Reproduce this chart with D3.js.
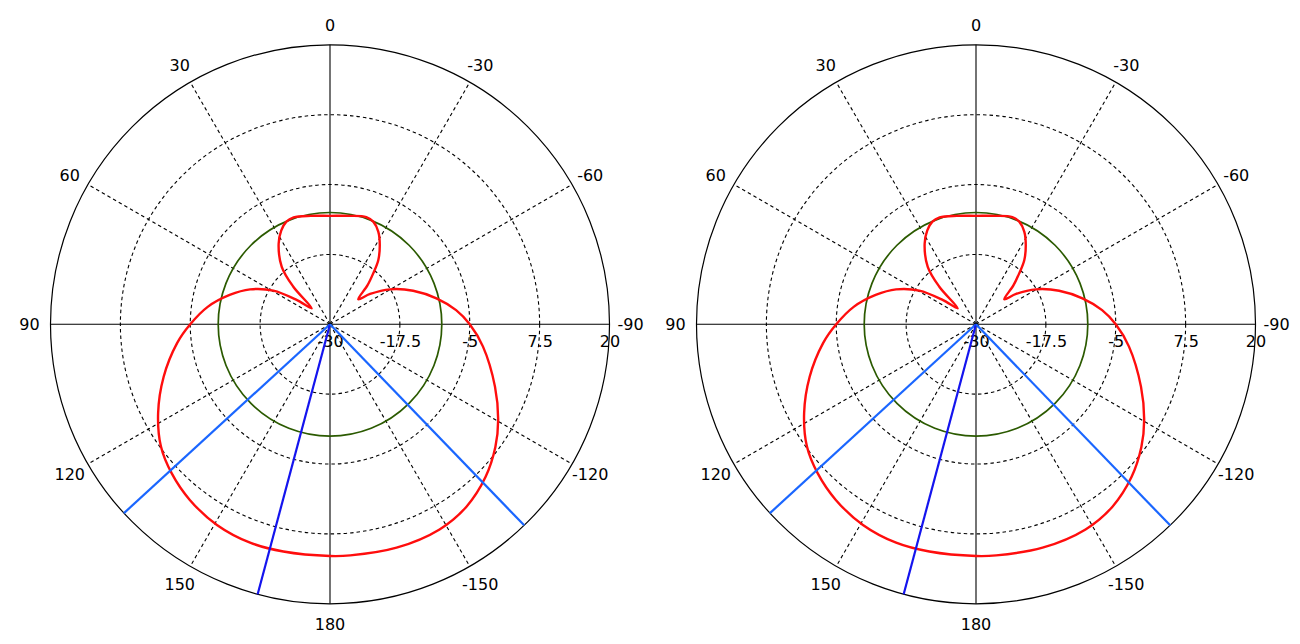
<!DOCTYPE html>
<html>
<head>
<meta charset="utf-8">
<script src="https://cdnjs.cloudflare.com/ajax/libs/d3/7.8.5/d3.min.js"></script>
<style>
  body { margin: 0; background: #fff; }
  svg { display: block; font-family: "DejaVu Sans", Verdana, sans-serif; }
</style>
</head>
<body>
<svg id="chart" width="1300" height="644"></svg>
<script>
// angle ticks in degrees, positive goes counter-clockwise from the top
const angleTicks = [0, 30, 60, 90, 120, 150, 180, -150, -120, -90, -60, -30];
// radial ticks (dB)
const radialTicks = [-30, -17.5, -5, 7.5, 20];

// red pattern
const patternAngles = [-175, -163.4, -151.9, -143.2, -134.5, -126.6, -119.6, -110.7, -98.3, -90,
  -83.6, -76.3, -68, -59.7, -52.9, -48.5, -44, -40.3, -36.9, -32, -27.5, -23, -18.7, -10, 0,
  10, 18.8, 23, 27.5, 32.5, 40, 44.3, 48.8, 53.9, 59.3, 66.4, 73.7, 81.9, 90,
  97.1, 107.5, 117.3, 125.8, 133.3, 141.4, 150.6, 159.9, 168.4, 180];
const patternValues = [11.5, 11.7, 11.6, 10.75, 9.0, 6.85, 4.6, 1.55, -2.34, -5,
  -7.3, -10.4, -13.96, -17.6, -21.0, -23.25, -20.4, -18.05, -15.6, -13.2, -11.3, -10.1, -9.75, -10.3, -10.6,
  -10.3, -9.8, -10.05, -11.1, -12.9, -16.57, -20.6, -25.66, -22.6, -18.2, -14.4, -11.3, -7.9, -5,
  -2.41, 1.2, 4.6, 7.3, 8.9, 10.2, 11.2, 11.6, 11.5, 11.45];

// green reference level (dB)
const refLevel = -10;

// blue marker lines
const markerAngles = [132.5, 165, -136];
const markerColors = ['#1a66ff', '#1414ee', '#1a66ff'];

const centers = [330, 976];
const cy = 324.3;
const radius = 279.5;

const rScale = d3.scaleLinear().domain([radialTicks[0], radialTicks[radialTicks.length - 1]]).range([0, radius]);
const toRad = a => -a * Math.PI / 180;

const svg = d3.select('#chart');

function drawPolar(cx) {
  const g = svg.append('g').attr('transform', `translate(${cx},${cy})`);

  // dashed rings
  g.selectAll('.ring')
    .data(radialTicks.slice(1, -1))
    .enter().append('circle')
    .attr('r', d => rScale(d))
    .attr('fill', 'none')
    .attr('stroke', '#000')
    .attr('stroke-width', 1.1)
    .attr('stroke-dasharray', '3.5,3');

  // outer ring
  g.append('circle')
    .attr('r', rScale(radialTicks[radialTicks.length - 1]))
    .attr('fill', 'none')
    .attr('stroke', '#000')
    .attr('stroke-width', 1.2);

  // spokes
  const spoke = d3.lineRadial().angle(d => toRad(d.a)).radius(d => rScale(d.v));
  g.selectAll('.spoke')
    .data(angleTicks)
    .enter().append('path')
    .attr('d', a => spoke([{ a: a, v: radialTicks[0] }, { a: a, v: radialTicks[radialTicks.length - 1] }]))
    .attr('fill', 'none')
    .attr('stroke', '#000')
    .attr('stroke-width', 1.1)
    .attr('stroke-dasharray', a => (a % 90 === 0) ? null : '3.5,3');

  // angle labels
  g.selectAll('.alabel')
    .data(angleTicks)
    .enter().append('text')
    .attr('x', a => -(radius + 21) * Math.sin(a * Math.PI / 180))
    .attr('y', a => -(radius + 20) * Math.cos(a * Math.PI / 180) + 6)
    .attr('text-anchor', 'middle')
    .attr('font-size', 16)
    .attr('fill', '#000')
    .text(a => a);

  // radial labels
  g.selectAll('.rlabel')
    .data(radialTicks)
    .enter().append('text')
    .attr('x', d => rScale(d) + 0.5)
    .attr('y', 22.5)
    .attr('text-anchor', 'middle')
    .attr('font-size', 16)
    .attr('fill', '#000')
    .text(d => d);

  // reference level circle
  g.append('circle')
    .attr('r', rScale(refLevel))
    .attr('fill', 'none')
    .attr('stroke', '#2b5a00')
    .attr('stroke-width', 1.7);

  // pattern
  const pattern = patternAngles.map((a, i) => ({ a: a, v: patternValues[i] }));
  const patternLine = d3.lineRadial()
    .angle(d => toRad(d.a))
    .radius(d => rScale(d.v))
    .curve(d3.curveCatmullRomClosed.alpha(0.5));
  g.append('path')
    .attr('d', patternLine(pattern))
    .attr('fill', 'none')
    .attr('stroke', '#ff0d0d')
    .attr('stroke-width', 2.4)
    .attr('stroke-linejoin', 'round');

  // markers
  g.selectAll('.marker')
    .data(markerAngles)
    .enter().append('path')
    .attr('d', a => spoke([{ a: a, v: radialTicks[0] }, { a: a, v: radialTicks[radialTicks.length - 1] }]))
    .attr('stroke', (a, i) => markerColors[i])
    .attr('stroke-width', 2.2)
    .attr('fill', 'none');
}

centers.forEach(drawPolar);
</script>
</body>
</html>
